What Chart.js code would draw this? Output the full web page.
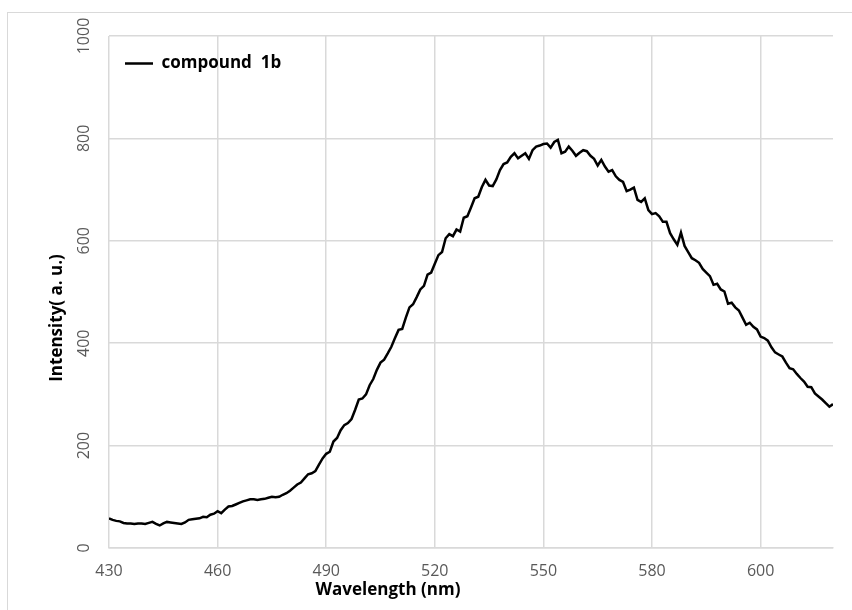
<!DOCTYPE html>
<html>
<head>
<meta charset="utf-8">
<script src="https://cdn.jsdelivr.net/npm/chart.js@4.4.1/dist/chart.umd.min.js"></script>
<style>
  html, body { margin: 0; padding: 0; background: #fff; overflow: hidden; }
  #wrap { position: relative; width: 852px; height: 610px; }
  #frame { position: absolute; left: 7px; top: 12px; width: 870px; height: 630px; border: 1px solid #d9d9d9; }
  #myChart { position: absolute; left: 0; top: 0; }
</style>
</head>
<body>
<div id="wrap">
  <div id="frame"></div>
  <canvas id="myChart" width="852" height="610"></canvas>
</div>
<script>
const seriesName = 'compound  1b'
const intensity = [
  58, 55, 53, 52, 49, 48, 48, 47, 48, 48,
  47, 49, 51, 47, 44, 48, 51, 50, 49, 48,
  47, 50, 55, 56, 57, 58, 61, 60, 65, 67,
  72, 68, 75, 81, 82, 85, 88, 91, 93, 95,
  95, 94, 95, 96, 98, 100, 99, 100, 104, 107,
  112, 118, 124, 128, 136, 144, 146, 150, 163, 175,
  184, 188, 208, 215, 230, 240, 244, 252, 270, 290,
  292, 300, 318, 330, 348, 362, 368, 380, 393, 410,
  426, 428, 450, 470, 476, 490, 505, 512, 534, 538,
  555, 572, 578, 605, 613, 609, 622, 618, 645, 648,
  665, 683, 686, 705, 719, 708, 707, 720, 738, 750,
  753, 764, 771, 761, 766, 771, 760, 777, 784, 786,
  789, 790, 782, 793, 797, 771, 774, 784, 776, 766,
  772, 777, 775, 766, 760, 747, 758, 745, 735, 738,
  726, 719, 715, 697, 700, 704, 680, 676, 683, 660,
  652, 654, 648, 637, 637, 615, 603, 592, 616, 590,
  578, 566, 562, 557, 545, 538, 531, 514, 516, 505,
  501, 477, 479, 470, 464, 450, 436, 440, 432, 427,
  413, 410, 405, 392, 382, 378, 374, 362, 351, 349,
  340, 332, 325, 315, 314, 302, 296, 290, 283, 276,
  281
]
// x axis labels sit on every 30th point
const tickIndex = [0, 30, 60, 90, 120, 150, 180]
const tickLabels = ['430', '460', '490', '520', '550', '580', '600']
const xTitle = 'Wavelength (nm)'
const yTitle = 'Intensity( a. u.)'

const gridColor = '#d9d9d9'
const tickColor = '#595959'
const fontFamily = '"Open Sans", "DejaVu Sans", sans-serif'

// Excel had the axis titles dragged off-centre, so place them by hand
const axisTitles = {
    id: 'axisTitles',
    afterDraw(chart) {
        const ctx = chart.ctx
        ctx.save()
        ctx.fillStyle = '#000'
        ctx.font = 'bold 17px ' + fontFamily
        ctx.textAlign = 'center'
        ctx.textBaseline = 'middle'
        ctx.fillText(xTitle, 388, 590)
        ctx.translate(57, 318)
        ctx.rotate(-Math.PI / 2)
        ctx.fillText(yTitle, 0, 0)
        ctx.restore()
    }
}

const renderChart = (myChart) => {
    new Chart(myChart, {
        type: 'line',
        data: {
            datasets: [{
                label: seriesName,
                data: intensity.map((v, i) => ({ x: i, y: v })),
                borderColor: '#000',
                backgroundColor: '#000',
                borderWidth: 2.5,
                pointRadius: 0,
                tension: 0,
                fill: false
            }]
        },
        options: {
            responsive: false,
            animation: false,
            devicePixelRatio: 1,
            layout: { padding: { top: 36, right: 19, left: 0, bottom: 0 } },
            plugins: {
                tooltip: { enabled: false },
                legend: {
                    position: 'chartArea',
                    align: 'start',
                    // empty title only pushes the entry down into the plot
                    title: { display: true, text: '', font: { size: 10, lineHeight: 1 }, padding: { top: 29, bottom: 0 } },
                    labels: {
                        color: '#000',
                        font: { family: fontFamily, size: 17, weight: 'bold' },
                        boxWidth: 28,
                        boxHeight: 0,
                        padding: 16
                    }
                }
            },
            scales: {
                x: {
                    type: 'linear',
                    min: 0,
                    max: intensity.length - 1,
                    afterBuildTicks: (scale) => {
                        scale.ticks = tickIndex.map(v => ({ value: v }))
                    },
                    afterFit: (scale) => { scale.height = 62 },
                    ticks: {
                        color: tickColor,
                        font: { family: fontFamily, size: 16 },
                        padding: 14,
                        maxRotation: 0,
                        autoSkip: false,
                        callback: (v) => tickLabels[tickIndex.indexOf(v)]
                    },
                    grid: { color: gridColor, lineWidth: 1.5, drawTicks: false },
                    border: { color: gridColor, width: 1.5 }
                },
                y: {
                    min: 0,
                    max: 1000,
                    afterFit: (scale) => { scale.width = 109 },
                    ticks: {
                        stepSize: 200,
                        color: tickColor,
                        font: { family: fontFamily, size: 16 },
                        minRotation: 90,
                        maxRotation: 90,
                        crossAlign: 'center',
                        padding: 6,
                        callback: (v) => String(v)
                    },
                    grid: { color: gridColor, lineWidth: 1.5, drawTicks: false },
                    border: { display: false }
                }
            }
        },
        plugins: [axisTitles]
    })
}

renderChart(document.getElementById('myChart').getContext('2d'))
</script>
</body>
</html>
